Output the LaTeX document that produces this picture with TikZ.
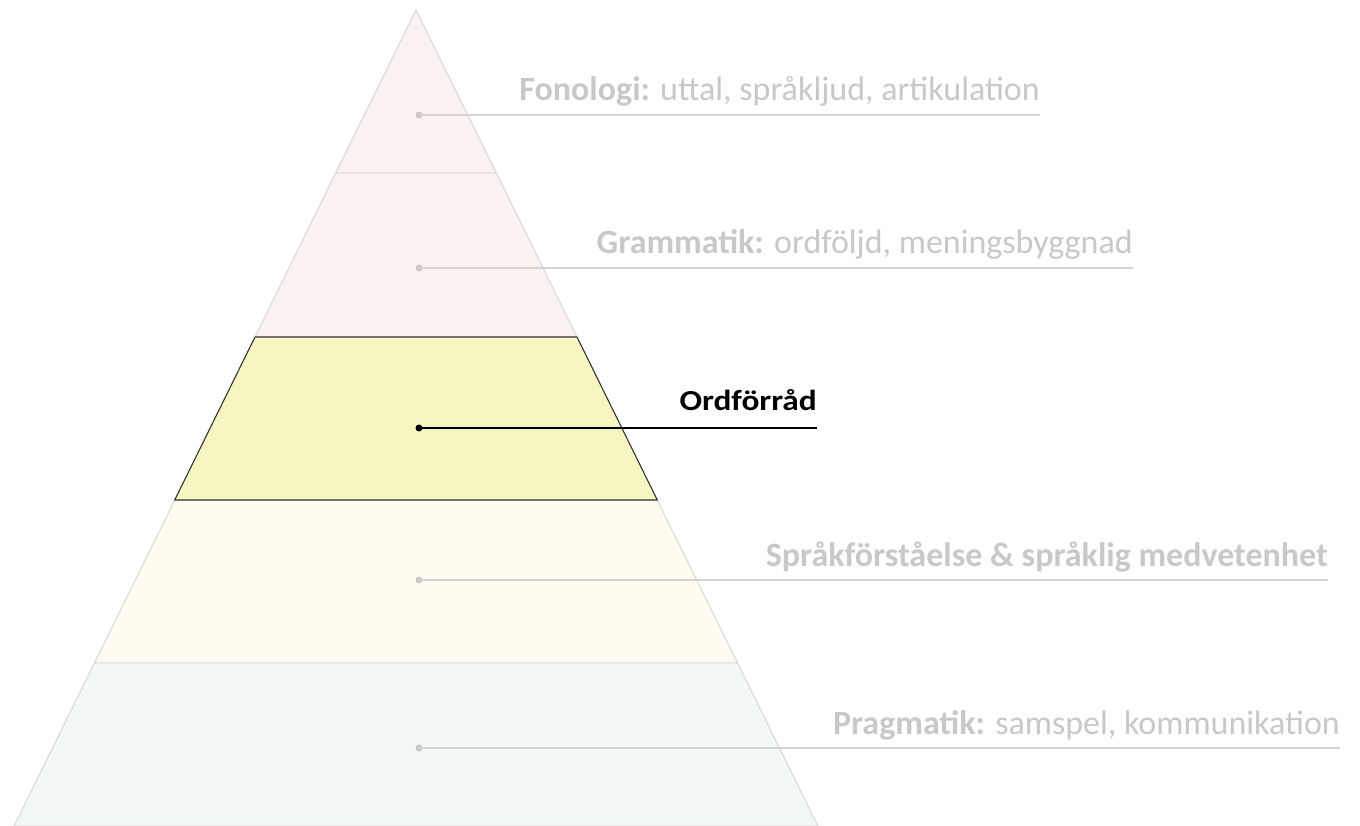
\documentclass[tikz,border=0pt]{standalone}
\usepackage{fontspec}
\setmainfont{Carlito}
\newfontfamily\widefont[FakeStretch=1.15]{Carlito}
\definecolor{fadetext}{HTML}{C8C8C8}
\definecolor{fadeline}{HTML}{D4D4D4}
\definecolor{pinkfill}{HTML}{FCF2F2}
\definecolor{yelfill}{HTML}{F7F5C2}
\definecolor{creamfill}{HTML}{FEFCF1}
\definecolor{greenfill}{HTML}{F3F8F6}
\tikzset{
  band/.style={draw=fadeline, line width=0.9pt, line join=round},
  hiband/.style={draw=black!80, line width=1.1pt, line join=round},
  fadedot/.style={circle, fill=fadetext, inner sep=0pt, minimum size=7pt},
  hidot/.style={circle, fill=black, inner sep=0pt, minimum size=7pt},
  fadeconn/.style={draw=fadeline, line width=1.2pt},
  hiconn/.style={draw=black, line width=1.2pt},
  fadelabel/.style={anchor=base east, text=fadetext, font=\fontsize{34}{38}\selectfont, inner sep=0pt},
  hilabel/.style={anchor=base east, text=black, font=\widefont\fontsize{29}{32}\selectfont\bfseries, inner sep=0pt},
}
\begin{document}
\begin{tikzpicture}[x=1pt,y=-1pt]
\useasboundingbox (0,0) rectangle (1360,826);
% pyramid corner coordinates
\coordinate (apex) at (416,10);
\coordinate (l1) at (335.7,173); \coordinate (r1) at (496.3,173);
\coordinate (l2) at (255,337);   \coordinate (r2) at (577,337);
\coordinate (l3) at (174.7,500); \coordinate (r3) at (657.3,500);
\coordinate (l4) at (94.4,663);  \coordinate (r4) at (737.6,663);
\coordinate (l5) at (14.1,826);  \coordinate (r5) at (817.9,826);
% bands
\path[band, fill=pinkfill] (apex) -- (r1) -- (l1) -- cycle;
\path[band, fill=pinkfill] (l1) -- (r1) -- (r2) -- (l2) -- cycle;
\path[band, fill=creamfill] (l3) -- (r3) -- (r4) -- (l4) -- cycle;
\path[band, fill=greenfill] (l4) -- (r4) -- (r5) -- (l5) -- cycle;
\path[hiband, fill=yelfill] (l2) -- (r2) -- (r3) -- (l3) -- cycle;
% dots
\node[fadedot] (d1) at (419,115) {};
\node[fadedot] (d2) at (419,268) {};
\node[hidot]   (d3) at (419,428) {};
\node[fadedot] (d4) at (419,580) {};
\node[fadedot] (d5) at (419,748) {};
% line ends
\coordinate (e1) at (1040,115);
\coordinate (e2) at (1133,268);
\coordinate (e3) at (817,428);
\coordinate (e4) at (1328,580);
\coordinate (e5) at (1340,748);
\draw[fadeconn] (d1.center) -- (e1);
\draw[fadeconn] (d2.center) -- (e2);
\draw[hiconn]   (d3.center) -- (e3);
\draw[fadeconn] (d4.center) -- (e4);
\draw[fadeconn] (d5.center) -- (e5);
% labels
\node[fadelabel] (t1) at ([yshift=14]e1) {\textbf{Fonologi:} uttal, språkljud, artikulation};
\node[fadelabel] (t2) at ([yshift=14]e2) {\textbf{Grammatik:} ordföljd, meningsbyggnad};
\node[hilabel]   (t3) at ([yshift=18]e3) {Ordförråd};
\node[fadelabel] (t4) at ([yshift=14]e4) {\textbf{Språkförståelse \& språklig medvetenhet}};
\node[fadelabel] (t5) at ([yshift=14]e5) {\textbf{Pragmatik:} samspel, kommunikation};
\end{tikzpicture}
\end{document}
